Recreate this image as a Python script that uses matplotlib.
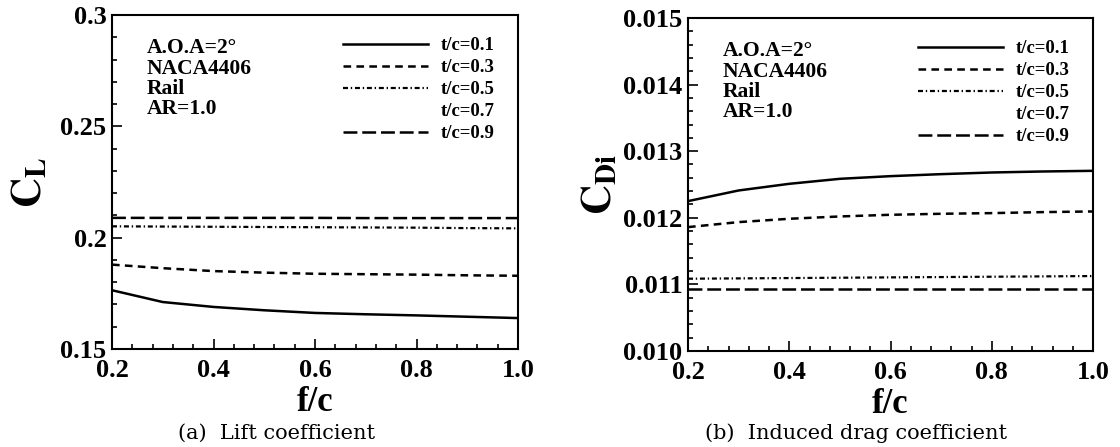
import matplotlib
matplotlib.use("Agg")
import matplotlib.pyplot as plt
from matplotlib.ticker import MultipleLocator, FormatStrFormatter

plt.rcParams['font.family'] = ['Liberation Serif', 'DejaVu Serif']
plt.rcParams['mathtext.fontset'] = 'stix'
plt.rcParams['lines.scale_dashes'] = False

# data
fc = [0.2, 0.3, 0.4, 0.5, 0.6, 0.7, 0.8, 0.9, 1.0]
labels = ['t/c=0.1', 't/c=0.3', 't/c=0.5', 't/c=0.7', 't/c=0.9']

cl_01 = [0.1764, 0.1711, 0.1689, 0.1674, 0.1662, 0.1656, 0.1651, 0.1645, 0.1639]
cl_03 = [0.1879, 0.1863, 0.1850, 0.1843, 0.1838, 0.1836, 0.1834, 0.1831, 0.1829]
cl_05 = [0.2051, 0.2050, 0.2049, 0.2048, 0.2047, 0.2046, 0.2045, 0.2043, 0.2042]
cl_07 = [0.2089, 0.2089, 0.2089, 0.2089, 0.2089, 0.2088, 0.2088, 0.2088, 0.2088]
cl_09 = [0.2089, 0.2089, 0.2089, 0.2089, 0.2089, 0.2088, 0.2088, 0.2088, 0.2088]

cd_01 = [0.01225, 0.01241, 0.01251, 0.012585, 0.012625, 0.012655, 0.01268, 0.012695, 0.012705]
cd_03 = [0.01186, 0.011935, 0.011985, 0.01202, 0.012045, 0.01206, 0.01207, 0.012085, 0.012095]
cd_05 = [0.011085, 0.01109, 0.011095, 0.0111, 0.011105, 0.01111, 0.011115, 0.01112, 0.011125]
cd_07 = [0.010925, 0.010925, 0.010925, 0.010925, 0.010925, 0.010925, 0.010925, 0.010925, 0.010925]
cd_09 = [0.010925, 0.010925, 0.010925, 0.010925, 0.010925, 0.010925, 0.010925, 0.010925, 0.010925]

styles = [
    dict(ls='-', lw=1.8),
    dict(ls=(0, (5.5, 3.8)), lw=1.8),
    dict(ls=(0, (3.6, 2.0, 1.0, 2.0)), lw=1.6),
    dict(ls='none', lw=1.5),
    dict(ls=(0, (10, 3.5)), lw=1.8),
]

fig = plt.figure(figsize=(11.2, 4.47), dpi=100)
ax1 = fig.add_axes([0.1, 0.2192, 0.3625, 0.7472])
ax2 = fig.add_axes([0.6143, 0.2148, 0.3616, 0.745])

def style_axes(ax, ymin, ymax, ymaj, ymin_step, yfmt):
    ax.set_xlim(0.2, 1.0)
    ax.set_ylim(ymin, ymax)
    ax.xaxis.set_major_locator(MultipleLocator(0.2))
    ax.xaxis.set_minor_locator(MultipleLocator(0.04))
    ax.yaxis.set_major_locator(MultipleLocator(ymaj))
    ax.yaxis.set_minor_locator(MultipleLocator(ymin_step))
    ax.xaxis.set_major_formatter(FormatStrFormatter('%.1f'))
    ax.yaxis.set_major_formatter(FormatStrFormatter(yfmt))
    ax.tick_params(which='both', direction='in', top=False, right=False,
                   labelsize=19, width=1.2)
    ax.tick_params(which='major', length=7)
    ax.tick_params(which='minor', length=3.5)
    ax.tick_params(axis='x', which='major', pad=7)
    ax.tick_params(axis='y', which='major', pad=4)
    for lab in ax.get_xticklabels() + ax.get_yticklabels():
        lab.set_fontweight('bold')
    for s in ax.spines.values():
        s.set_linewidth(1.5)
    ax.set_xlabel('f/c', fontsize=25, fontweight='bold', labelpad=3)
    ax.text(0.086, 0.93, 'A.O.A=2°\nNACA4406\nRail\nAR=1.0', transform=ax.transAxes,
            fontsize=15.5, fontweight='bold', va='top', ha='left', linespacing=1.02)

for ax, series in [(ax1, [cl_01, cl_03, cl_05, cl_07, cl_09]),
                   (ax2, [cd_01, cd_03, cd_05, cd_07, cd_09])]:
    for y, st, lab in zip(series, styles, labels):
        ax.plot(fc, y, color='black', label=lab, **st)
    leg = ax.legend(loc='upper right', frameon=False, fontsize=13.5,
                    handlelength=4.5, handletextpad=0.7, labelspacing=0.26,
                    borderaxespad=0, borderpad=0, bbox_to_anchor=(0.943, 0.934))
    for t in leg.get_texts():
        t.set_fontweight('bold')

style_axes(ax1, 0.15, 0.3, 0.05, 0.01, '%g')
style_axes(ax2, 0.010, 0.015, 0.001, 0.0002, '%.3f')

ax1.set_ylabel(r'$\mathbf{C}_{\mathbf{L}}$', fontsize=30, labelpad=7)
ax2.set_ylabel(r'$\mathbf{C}_{\mathbf{Di}}$', fontsize=30, labelpad=2)

fig.text(178 / 1120, 1 - 433 / 447, '(a)  Lift coefficient', fontsize=15, va='center', ha='left',
         family='DejaVu Serif')
fig.text(705 / 1120, 1 - 433 / 447, '(b)  Induced drag coefficient', fontsize=15, va='center', ha='left',
         family='DejaVu Serif')

fig.savefig('out.png', dpi=100)
